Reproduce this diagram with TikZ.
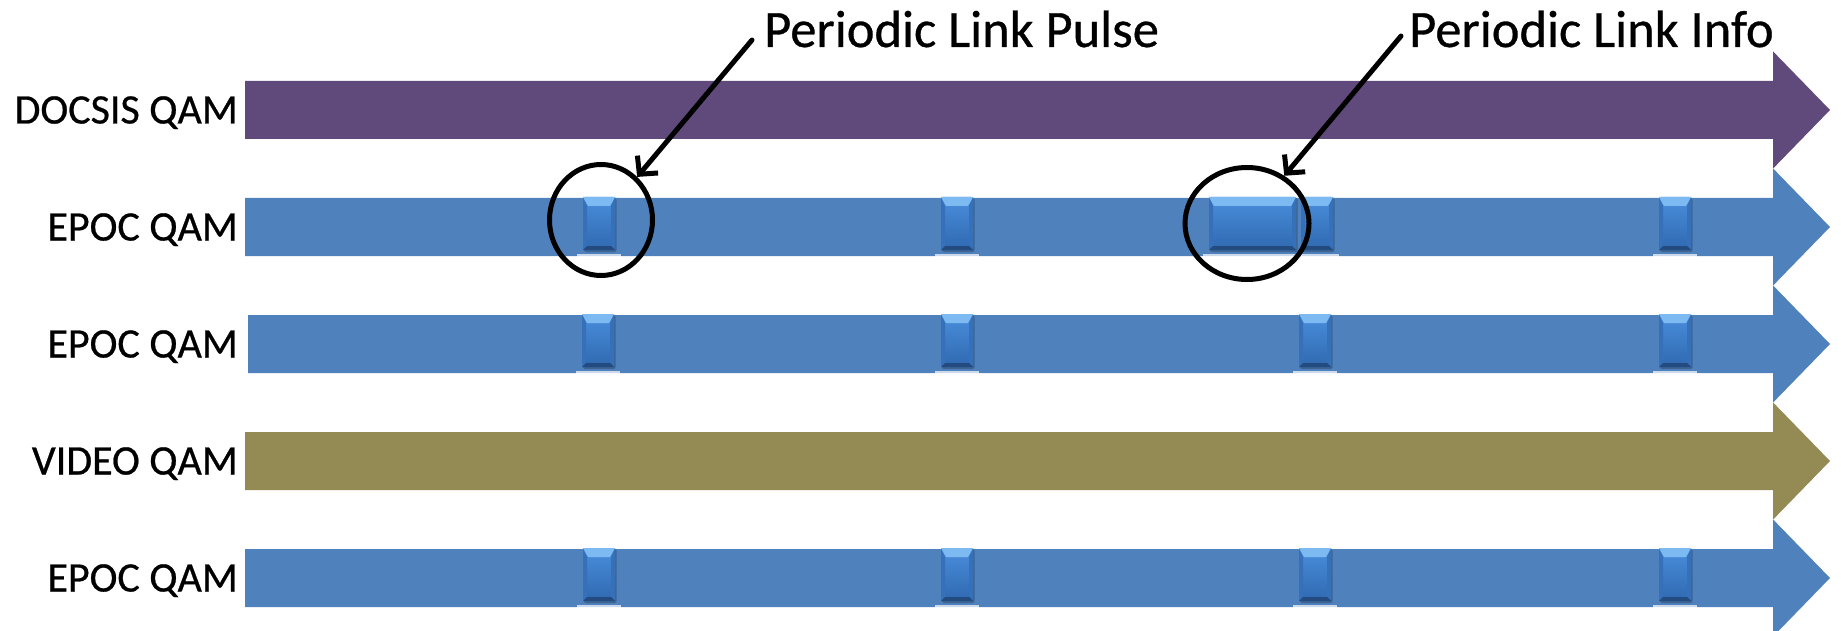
\documentclass[tikz,border=0pt]{standalone}
\usepackage{fontspec}
\setmainfont[FakeBold=0.6]{Carlito}
\usetikzlibrary{arrows.meta,shapes.geometric}

\definecolor{docsis}{HTML}{604A7B}
\definecolor{epoc}{HTML}{4F81BD}
\definecolor{video}{HTML}{948A54}
\definecolor{mkhi}{HTML}{4A8EDC}
\definecolor{mklo}{HTML}{2F69B0}
\definecolor{mktop}{HTML}{7DBAF2}
\definecolor{mkbot}{HTML}{234B80}
\definecolor{mkside}{HTML}{3670B8}

% one channel: wide arrow, #1 colour, #2 centre line, #3 left end
\newcommand\channelbar[3]{%
  \fill[#1] (#3,#2-29) -- (1773,#2-29) -- (1773,#2-58.6) -- (1830,#2)
    -- (1773,#2+58.6) -- (1773,#2+29) -- (#3,#2+29) -- cycle;}

% bevelled marker block, #1 left, #2 right, #3 channel centre line
\newcommand\pulsemark[3]{%
  \fill[white,opacity=.7] (#1-6,#3+27) rectangle (#2+6,#3+30);
  \fill[black,opacity=.22,rounded corners=2pt] (#1+1,#3-29) rectangle (#2+1.5,#3+25);
  \shade[top color=mkhi,bottom color=mklo,rounded corners=2pt] (#1,#3-30) rectangle (#2,#3+23);
  \fill[mkside] (#1,#3-30) -- (#1+4,#3-21) -- (#1+4,#3+19) -- (#1,#3+23) -- cycle;
  \fill[mkside] (#2,#3-30) -- (#2-4,#3-21) -- (#2-4,#3+19) -- (#2,#3+23) -- cycle;
  \fill[mktop] (#1,#3-30) -- (#2,#3-30) -- (#2-5,#3-21) -- (#1+5,#3-21) -- cycle;
  \fill[mkbot] (#1,#3+23) -- (#2,#3+23) -- (#2-4,#3+19) -- (#1+4,#3+19) -- cycle;}

\newcommand\pulseat[2]{\pulsemark{#1-16}{#1+16}{#2}}

\tikzset{
  chlabel/.style={anchor=base east, inner sep=0pt, font=\fontsize{42}{48}\selectfont},
  annot/.style={anchor=base west, inner sep=0pt, font=\fontsize{52.5}{60}\selectfont},
  ring/.style={ellipse, draw=black, line width=5pt, inner sep=0pt},
  pointer/.style={draw=black, line width=5pt, line cap=round,
    -{Straight Barb[length=13pt,width=27pt]}},
}

\begin{document}
\begin{tikzpicture}[x=1pt,y=-1pt]
\useasboundingbox (0,0) rectangle (1841,631);

% channels
\channelbar{epoc}{578}{245}
\channelbar{video}{461}{245}
\channelbar{epoc}{344}{248}
\channelbar{epoc}{227}{245}
\channelbar{docsis}{110}{245}

% channel names
\node[chlabel] (lbl1) at (238,123.5) {DOCSIS QAM};
\node[chlabel] (lbl2) at (238,240.5) {EPOC QAM};
\node[chlabel] (lbl3) at (238,357.5) {EPOC QAM};
\node[chlabel] (lbl4) at (238,474.5) {VIDEO QAM};
\node[chlabel] (lbl5) at (238,591.5) {EPOC QAM};

% link pulses
\pulseat{599}{227}
\pulseat{957}{227}
\pulsemark{1209}{1296}{227}
\pulseat{1317}{227}
\pulseat{1675}{227}

\pulseat{598}{344}
\pulseat{957}{344}
\pulseat{1315}{344}
\pulseat{1675}{344}

\pulseat{599}{578}
\pulseat{957}{578}
\pulseat{1315}{578}
\pulseat{1675}{578}

% call-outs
\node[ring, minimum width=103pt, minimum height=111pt] (ringpulse) at (601,220) {};
\node[ring, minimum width=124pt, minimum height=112pt] (ringinfo) at (1247,223.5) {};

\node[annot] (txtpulse) at (764,47) {Periodic Link Pulse};
\node[annot] (txtinfo) at (1409,47) {Periodic Link Info};

\coordinate (frompulse) at (752,40);
\coordinate (frominfo) at (1401,36);
\draw[pointer] (frompulse) -- (ringpulse.50);
\draw[pointer] (frominfo) -- (ringinfo.52);
\end{tikzpicture}
\end{document}
